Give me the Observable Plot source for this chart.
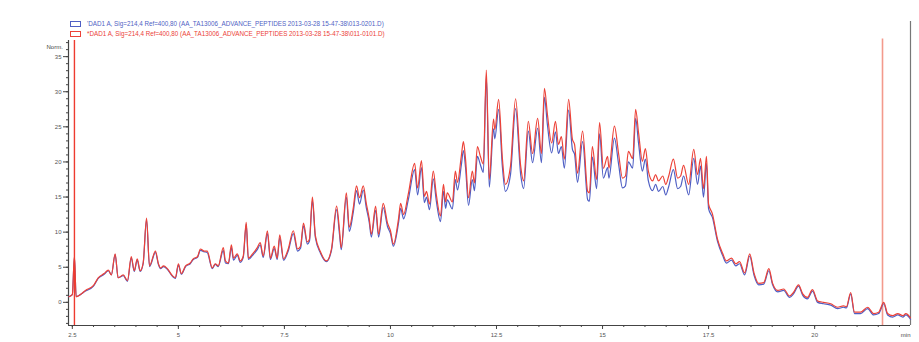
<!DOCTYPE html>
<html>
<head>
<meta charset="utf-8">
<script src="https://cdn.jsdelivr.net/npm/d3@7"></script>
<script src="https://cdn.jsdelivr.net/npm/@observablehq/plot@0.6"></script>
<style>
  html, body { margin: 0; padding: 0; background: #fff; }
  #wrap { position: relative; width: 919px; height: 342px; font-family: "Liberation Sans", Arial, sans-serif; }
  #legend { position: absolute; left: 70px; top: 19px; font-size: 6.3px; line-height: 10px; }
  .row { display: flex; align-items: center; white-space: nowrap; }
  .sw { display: inline-block; width: 9px; height: 4px; border: 1px solid; margin-right: 6px; }
</style>
</head>
<body>
<div id="wrap"><div id="legend"></div></div>
<script>
const seriesNames = [
  "'DAD1 A, Sig=214,4 Ref=400,80 (AA_TA13006_ADVANCE_PEPTIDES 2013-03-28 15-47-38\\013-0201.D)",
  "*DAD1 A, Sig=214,4 Ref=400,80 (AA_TA13006_ADVANCE_PEPTIDES 2013-03-28 15-47-38\\011-0101.D)"
];
const seriesColors = ["#4f5fc4", "#ec4238"];

const times = [2.42,2.50,2.55,2.59,2.69,2.81,3.00,3.11,3.25,3.35,3.42,3.51,3.58,3.70,3.80,3.89,3.96,4.03,4.10,4.17,
4.25,4.32,4.46,4.53,4.58,4.65,4.74,4.86,4.93,5.00,5.07,5.17,5.28,5.35,5.45,5.52,5.61,5.68,5.80,5.87,
5.94,6.06,6.11,6.18,6.25,6.30,6.39,6.46,6.53,6.60,6.65,6.75,6.86,6.93,7.00,7.10,7.17,7.26,7.33,7.39,
7.48,7.59,7.71,7.81,7.88,7.95,8.04,8.09,8.16,8.23,8.35,8.49,8.61,8.73,8.80,8.84,8.96,9.03,9.12,9.20,
9.27,9.36,9.43,9.50,9.55,9.65,9.72,9.83,9.93,10.00,10.07,10.19,10.24,10.31,10.42,10.57,10.64,10.73,10.80,10.85,
10.92,11.01,11.08,11.18,11.25,11.30,11.34,11.46,11.53,11.58,11.67,11.72,11.77,11.84,11.93,11.98,12.05,12.12,12.19,12.26,
12.33,12.43,12.46,12.55,12.64,12.71,12.83,12.95,13.07,13.14,13.25,13.35,13.47,13.56,13.63,13.70,13.80,13.89,13.96,14.03,
14.10,14.20,14.29,14.34,14.41,14.53,14.65,14.69,14.76,14.86,14.93,15.02,15.12,15.15,15.28,15.38,15.47,15.54,15.61,15.71,
15.78,15.85,15.94,16.01,16.08,16.18,16.25,16.32,16.42,16.49,16.56,16.67,16.77,16.84,16.91,17.03,17.15,17.24,17.31,17.38,
17.45,17.50,17.59,17.71,17.83,17.92,18.04,18.14,18.23,18.35,18.47,18.57,18.68,18.80,18.92,19.01,19.13,19.27,19.41,19.50,
19.62,19.72,19.83,19.95,20.07,20.21,20.38,20.54,20.68,20.75,20.85,20.94,21.08,21.25,21.39,21.51,21.63,21.72,21.84,21.96,
22.08,22.15,22.26];

const redValues = [0.8,1.1,6.6,0.8,1.1,1.7,2.4,3.5,4.1,4.6,3.9,6.9,3.5,3.9,3.1,6.5,4.5,6.2,4.5,5.6,
12.0,5.2,7.3,5.5,4.9,5.2,4.8,3.8,3.5,5.5,4.1,5.2,5.6,6.2,6.5,7.6,7.3,7.3,4.9,5.5,
5.2,7.8,5.9,5.6,8.2,6.3,6.9,5.9,6.6,11.4,6.3,6.9,7.8,8.5,6.6,10.2,6.3,8.0,6.3,9.6,
6.2,7.6,10.2,7.6,8.0,11.3,8.6,9.0,15.0,9.5,7.2,5.9,7.6,13.7,10.2,7.8,15.6,10.7,13.3,16.6,
14.9,16.6,14.1,11.9,9.7,13.7,9.7,14.1,11.3,10.2,8.3,11.9,14.1,12.5,15.4,19.8,16.3,20.2,15.1,15.8,
14.0,18.7,15.4,12.3,16.8,14.3,15.6,14.3,18.7,17.1,20.8,22.9,20.4,14.9,18.7,17.0,22.2,20.8,19.7,33.1,
17.5,26.1,24.6,28.9,20.4,16.8,19.4,29.0,19.4,17.3,25.8,21.2,26.2,21.2,30.5,26.8,22.7,25.8,22.5,23.6,
20.4,28.9,23.2,22.5,18.4,24.4,15.8,15.6,22.2,17.5,25.6,19.1,20.8,19.1,25.1,21.1,17.7,18.0,21.5,20.5,
27.5,24.1,20.1,21.9,18.7,17.3,18.2,17.3,18.0,16.8,18.0,20.4,17.7,18.0,19.5,16.8,21.8,18.2,20.5,16.2,
20.8,14.0,12.6,9.0,7.0,5.9,6.3,5.5,5.8,4.2,6.9,4.2,2.7,2.8,4.8,2.7,1.7,1.9,0.9,1.4,
2.5,1.2,0.7,1.8,0.2,0.0,-0.2,-0.7,-0.5,-0.6,1.4,-1.4,-1.4,-0.7,-1.6,-1.4,0.0,-1.6,-1.9,-1.6,
-1.9,-1.6,-2.2];

const blueValues = [0.8,1.1,6.4,0.8,1.1,1.6,2.3,3.4,4.0,4.5,3.9,6.8,3.5,3.8,3.0,6.3,4.4,6.0,4.4,5.5,
11.8,5.1,7.1,5.4,4.8,5.1,4.7,3.7,3.4,5.3,4.0,5.1,5.5,6.1,6.4,7.4,7.2,7.1,4.8,5.4,
5.1,7.4,5.6,5.5,7.8,6.0,6.7,5.7,6.4,11.1,6.1,6.7,7.5,8.2,6.4,9.8,6.1,7.7,6.1,9.2,
6.0,7.3,9.8,7.3,7.7,10.9,8.3,8.7,14.5,9.2,7.0,5.8,7.4,13.2,9.6,7.5,15.0,10.1,12.7,15.9,
14.0,16.0,13.5,11.4,9.3,13.1,9.3,13.5,10.8,9.8,8.0,11.3,13.4,11.9,14.6,18.9,15.3,19.2,14.2,15.0,
13.2,17.6,14.5,11.5,15.8,13.4,14.6,13.3,17.5,16.0,19.5,21.6,19.2,13.8,17.5,15.9,20.8,19.6,18.5,32.2,
16.4,24.7,23.3,27.5,19.2,15.8,18.2,27.6,18.2,16.2,24.4,19.9,24.8,19.9,29.2,25.3,21.3,24.3,21.2,22.2,
19.1,27.4,21.8,21.1,17.1,22.9,14.6,14.4,20.7,16.2,24.0,17.7,19.2,17.7,23.4,19.6,16.3,16.6,20.0,19.1,
26.2,22.6,18.7,20.4,17.3,15.9,16.8,15.8,16.5,15.3,16.5,18.9,16.2,16.5,18.0,15.3,20.5,16.8,19.4,15.0,
19.8,13.3,12.1,8.7,6.7,5.6,6.0,5.2,5.5,3.9,6.6,3.9,2.5,2.6,4.5,2.5,1.5,1.7,0.7,1.2,
2.3,1.0,0.5,1.6,0.0,-0.2,-0.4,-0.9,-0.7,-0.8,1.2,-1.6,-1.6,-0.9,-1.8,-1.6,-0.2,-1.8,-2.1,-1.8,
-2.1,-1.8,-2.4];

const xTicks = [2.5, 5, 7.5, 10, 12.5, 15, 17.5, 20];
const xMinorTicks = d3.range(2.5, 22.01, 0.5);
const yTicks = [0, 5, 10, 15, 20, 25, 30, 35];
const yMinorTicks = d3.range(-3, 37.01, 1);
const markerTimes = [2.55, 21.6];

const xDomain = [2.41, 22.26];
const yDomain = [-3.3, 37.3];

const rows = [];
times.forEach((t, i) => {
  rows.push({t, v: blueValues[i], s: 0});
});
times.forEach((t, i) => {
  rows.push({t, v: redValues[i], s: 1});
});

const axisColor = "#444";
const chart = Plot.plot({
  width: 919,
  height: 342,
  marginLeft: 68,
  marginRight: 9,
  marginTop: 40,
  marginBottom: 17,
  style: {fontFamily: "Liberation Sans, Arial, sans-serif", fontSize: "6px", color: axisColor, background: "transparent"},
  x: {domain: xDomain, label: null},
  y: {domain: yDomain, label: null},
  marks: [
    Plot.axisX({ticks: xMinorTicks, tickSize: 2, tickFormat: () => "", label: null, stroke: axisColor}),
    Plot.axisX({ticks: xTicks, tickSize: 4, tickPadding: 3, tickFormat: d => String(d), label: null, stroke: axisColor, fill: "#555"}),
    Plot.axisY({ticks: yMinorTicks, tickSize: 2, tickFormat: () => "", label: null, stroke: axisColor}),
    Plot.axisY({ticks: yTicks, tickSize: 5, tickPadding: 2, tickFormat: d => String(d), label: null, stroke: axisColor, fill: "#555"}),
    Plot.ruleY([yDomain[0]], {stroke: axisColor, strokeWidth: 1.2}),
    Plot.ruleX([xDomain[0]], {stroke: axisColor, strokeWidth: 1.2}),
    Plot.ruleX([xDomain[1]], {y1: yDomain[0], y2: 40, stroke: "#777", strokeWidth: 1.2}),
    Plot.ruleX([markerTimes[1]], {y1: yDomain[0], y2: 37.5, stroke: "#f39a8c", strokeWidth: 1.6}),
    Plot.line(rows, {x: "t", y: "v", z: "s", stroke: d => seriesColors[d.s], strokeWidth: 1.2, curve: "monotone-x"}),
    Plot.ruleX([markerTimes[0]], {y1: yDomain[0], y2: yDomain[1], stroke: "#ee3b30", strokeWidth: 1.4}),
    Plot.text(["Norm."], {frameAnchor: "top-left", dx: -22, dy: 4, text: d => d, fill: "#444", fontSize: 6}),
    Plot.text(["min"], {frameAnchor: "bottom-right", dy: 11, text: d => d, fill: "#444", fontSize: 6})
  ]
});
chart.style.position = "absolute";
chart.style.left = "0px";
chart.style.top = "0px";
const wrap = document.getElementById("wrap");
wrap.insertBefore(chart, wrap.firstChild);

const legend = document.getElementById("legend");
seriesNames.forEach((name, i) => {
  const row = document.createElement("div");
  row.className = "row";
  const sw = document.createElement("span");
  sw.className = "sw";
  sw.style.borderColor = seriesColors[i];
  const tx = document.createElement("span");
  tx.textContent = name;
  tx.style.color = seriesColors[i];
  row.appendChild(sw);
  row.appendChild(tx);
  legend.appendChild(row);
});
</script>
</body>
</html>
